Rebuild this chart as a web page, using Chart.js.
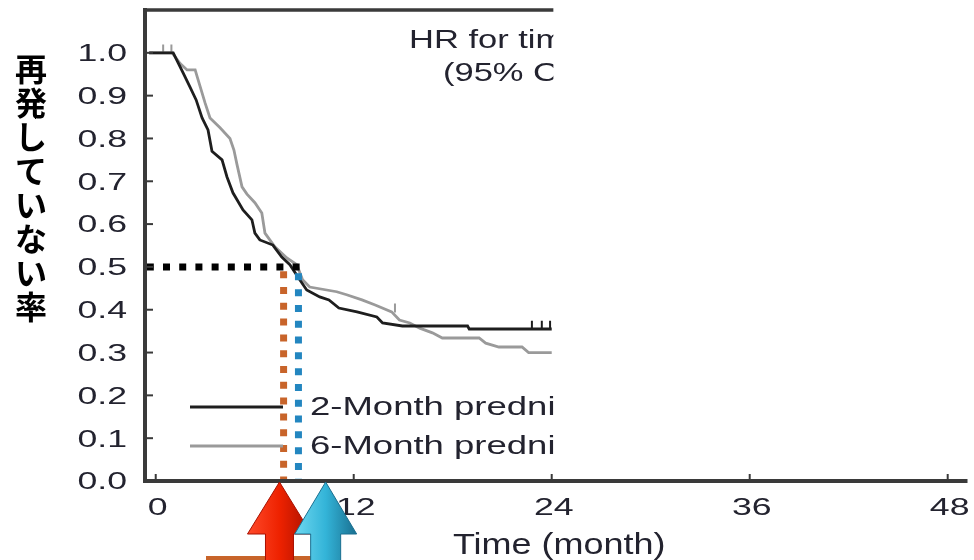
<!DOCTYPE html>
<html><head><meta charset="utf-8">
<script src="https://cdn.jsdelivr.net/npm/chart.js@4.4.1/dist/chart.umd.min.js"></script>
<style>html,body{margin:0;padding:0;background:#fff}#wrap{width:974px;height:560px}</style>
</head><body><div id="wrap"><canvas id="c" width="974" height="560"></canvas></div>
<script>
// ---- data ----
const monthsTwo = [-0.4, 1.06, 1.66, 2.08, 2.45, 2.81, 3.17, 3.41, 4.02, 4.32, 4.68, 5.29, 5.83, 6.01, 6.31, 7.1, 7.64, 8.13, 8.73, 9.15, 9.94, 10.5, 11.1, 12.2, 13.4, 13.75, 14.95, 18.9, 19.0, 24.0];
const survTwo   = [1.0, 1.0, 0.953, 0.92, 0.89, 0.848, 0.82, 0.77, 0.75, 0.71, 0.673, 0.633, 0.61, 0.579, 0.563, 0.551, 0.523, 0.505, 0.47, 0.446, 0.43, 0.423, 0.404, 0.395, 0.383, 0.369, 0.362, 0.362, 0.355, 0.355];
const monthsSix = [-0.4, 1.0, 1.48, 1.9, 2.39, 2.57, 2.99, 3.29, 3.9, 4.5, 4.74, 4.92, 5.23, 5.53, 6.01, 6.43, 6.62, 7.22, 7.95, 8.55, 8.9, 9.33, 10.97, 11.57, 12.5, 13.3, 14.3, 14.77, 15.4, 16.0, 16.77, 17.37, 19.6, 20.0, 20.8, 22.2, 22.6, 24.0];
const survSix   = [1.0, 1.0, 0.975, 0.96, 0.96, 0.937, 0.883, 0.848, 0.825, 0.80, 0.773, 0.74, 0.687, 0.67, 0.65, 0.626, 0.579, 0.547, 0.521, 0.505, 0.47, 0.453, 0.442, 0.435, 0.423, 0.411, 0.395, 0.376, 0.369, 0.357, 0.346, 0.334, 0.334, 0.322, 0.313, 0.313, 0.30, 0.30];
const censorTwoMonths = [22.8, 23.4, 23.9];
const censorTwoSurv   = [0.355, 0.355, 0.355];
const censorSixMonths = [0.45, 0.95, 14.5];
const censorSixSurv   = [1.0, 1.0, 0.395];
const medianTwo = 7.75;
const medianSix = 8.65;
const arrowMonths = [7.5, 10.3];
const xTicks = [0, 12, 24, 36, 48];
const xTickLabels = ['0', '12', '24', '36', '48'];
const yTicks = [0, 0.1, 0.2, 0.3, 0.4, 0.5, 0.6, 0.7, 0.8, 0.9, 1.0];
const yTickLabels = ['0.0', '0.1', '0.2', '0.3', '0.4', '0.5', '0.6', '0.7', '0.8', '0.9', '1.0'];
const seriesNames = ['2-Month prednisolone', '6-Month prednisolone'];
const yTitle = '再発していない率';
const xTitle = 'Time (month)';
const hrLines = ['HR for time to relapse', '(95% CI'];

const pts = (xs, ys) => xs.map((x, i) => ({x, y: ys[i]}));
const TXT = '#23232f';

function sText(ctx, str, x, y, size, sx, align, color, weight) {
  ctx.save();
  ctx.font = (weight || 'normal') + ' ' + size + 'px "Liberation Sans", Arial, sans-serif';
  ctx.fillStyle = color || TXT;
  ctx.textBaseline = 'middle';
  ctx.textAlign = align;
  ctx.translate(x, y);
  ctx.scale(sx, 1);
  ctx.fillText(str, 0, 0);
  ctx.restore();
}

function arrow(ctx, tipX, tipY, baseY, headHalf, shaftHalf, bottom, light, mid, dark) {
  const g = ctx.createLinearGradient(tipX - headHalf, 0, tipX + headHalf, 0);
  g.addColorStop(0, light); g.addColorStop(0.5, mid); g.addColorStop(1, dark);
  ctx.save();
  ctx.beginPath();
  ctx.moveTo(tipX, tipY);
  ctx.lineTo(tipX + headHalf, baseY);
  ctx.lineTo(tipX + shaftHalf, baseY);
  ctx.lineTo(tipX + shaftHalf, bottom);
  ctx.lineTo(tipX - shaftHalf, bottom);
  ctx.lineTo(tipX - shaftHalf, baseY);
  ctx.lineTo(tipX - headHalf, baseY);
  ctx.closePath();
  ctx.fillStyle = g; ctx.fill();
  ctx.strokeStyle = dark; ctx.lineWidth = 1; ctx.stroke();
  ctx.restore();
}

const decor = {
  id: 'decor',
  afterDatasetsDraw(chart) {
    const ctx = chart.ctx, xs = chart.scales.x, ys = chart.scales.y, ca = chart.chartArea;
    const axisCol = '#3a3a3a';
    const clipX = xs.getPixelForValue(24.1);
    ctx.save();
    // axes
    ctx.strokeStyle = axisCol; ctx.lineCap = 'butt';
    ctx.lineWidth = 4;
    ctx.beginPath(); ctx.moveTo(ca.left, ca.top - 2); ctx.lineTo(ca.left, ca.bottom + 2); ctx.stroke();
    ctx.beginPath(); ctx.moveTo(ca.left - 2, ca.bottom); ctx.lineTo(ca.right, ca.bottom); ctx.stroke();
    ctx.lineWidth = 3.5;
    ctx.beginPath(); ctx.moveTo(ca.left - 2, ca.top); ctx.lineTo(clipX, ca.top); ctx.stroke();
    // ticks
    ctx.lineWidth = 2;
    yTicks.forEach(v => { const y = ys.getPixelForValue(v); ctx.beginPath(); ctx.moveTo(ca.left, y); ctx.lineTo(ca.left + 8, y); ctx.stroke(); });
    xTicks.forEach(v => { const x = xs.getPixelForValue(v); ctx.beginPath(); ctx.moveTo(x, ca.bottom); ctx.lineTo(x, ca.bottom - 7); ctx.stroke(); });
    ctx.restore();
    // tick labels
    yTicks.forEach((v, i) => sText(ctx, yTickLabels[i], ca.left - 18, ys.getPixelForValue(v) + 2, 23, 1.55, 'right'));
    xTicks.forEach((v, i) => sText(ctx, xTickLabels[i], xs.getPixelForValue(v) + 2, ca.bottom + 28, 23, 1.55, 'center'));
    // x title
    sText(ctx, xTitle, (ca.left + ca.right) / 2 + 3, ca.bottom + 65, 30, 1.2, 'center');
    // y title (vertical, upright characters)
    ctx.save();
    ctx.font = 'bold 32px "Noto Sans CJK JP", sans-serif';
    ctx.fillStyle = '#000'; ctx.textAlign = 'center'; ctx.textBaseline = 'middle';
    [...yTitle].forEach((ch, i) => ctx.fillText(ch, 31, 69 + i * 34));
    ctx.restore();
    // clipped in-plot texts and legend
    ctx.save();
    ctx.beginPath(); ctx.rect(0, 0, clipX, ca.bottom - 3); ctx.clip();
    sText(ctx, hrLines[0], 409, 41, 25, 1.38, 'left');
    sText(ctx, hrLines[1], 443, 74, 25, 1.38, 'left');
    sText(ctx, seriesNames[0], 310, 408, 25, 1.46, 'left');
    sText(ctx, seriesNames[1], 310, 447, 25, 1.46, 'left');
    ctx.restore();
    // legend lines
    ctx.save(); ctx.lineWidth = 3;
    ctx.strokeStyle = '#1e1e1e'; ctx.beginPath(); ctx.moveTo(190, 407); ctx.lineTo(283, 407); ctx.stroke();
    ctx.strokeStyle = '#9a9a9a'; ctx.beginPath(); ctx.moveTo(190, 446); ctx.lineTo(283, 446); ctx.stroke();
    ctx.restore();
  },
  afterDraw(chart) {
    const ctx = chart.ctx, xs = chart.scales.x, ca = chart.chartArea;
    ctx.save();
    ctx.fillStyle = '#c8642a';
    ctx.fillRect(206, 556, 130, 4);
    ctx.restore();
    const tipY = ca.bottom + 1;
    arrow(ctx, xs.getPixelForValue(arrowMonths[0]), tipY, tipY + 52, 32, 14, 562, '#ff4a2a', '#ee2200', '#a81000');
    arrow(ctx, xs.getPixelForValue(arrowMonths[1]), tipY, tipY + 52, 31, 15, 562, '#6fd8f0', '#33b4d8', '#1a6f90');
  }
};

new Chart(document.getElementById('c'), {
  type: 'line',
  data: {
    datasets: [
      { data: pts(monthsSix, survSix), borderColor: '#9a9a9a', borderWidth: 2.8, pointRadius: 0, tension: 0, order: 3 },
      { data: pts(monthsTwo, survTwo), borderColor: '#1e1e1e', borderWidth: 2.8, pointRadius: 0, tension: 0, order: 2 },
      { data: pts(censorSixMonths, censorSixSurv.map(v => v + 0.009)), showLine: false, pointStyle: 'line', rotation: 90, pointRadius: 4.5, borderColor: '#9a9a9a', borderWidth: 2, order: 3 },
      { data: pts(censorTwoMonths, censorTwoSurv.map(v => v + 0.009)), showLine: false, pointStyle: 'line', rotation: 90, pointRadius: 4.5, borderColor: '#1e1e1e', borderWidth: 2, order: 2 },
      { data: [{x: -0.54, y: 0.5}, {x: medianSix + 0.08, y: 0.5}], borderColor: '#000', borderWidth: 7, borderDash: [7, 9.2], borderCapStyle: 'butt', pointRadius: 0, order: 1 },
      { data: [{x: medianTwo, y: 0.49}, {x: medianTwo, y: 0}], borderColor: '#c8642a', borderWidth: 7, borderDash: [7, 8.8], borderCapStyle: 'butt', pointRadius: 0, order: 1 },
      { data: [{x: medianSix, y: 0.485}, {x: medianSix, y: 0}], borderColor: '#2386c0', borderWidth: 7, borderDash: [7, 8.8], borderCapStyle: 'butt', pointRadius: 0, order: 1 }
    ]
  },
  options: {
    responsive: false, animation: false, devicePixelRatio: 1,
    layout: { padding: { left: 145, right: 4, top: 10, bottom: 79 } },
    plugins: { legend: { display: false }, tooltip: { enabled: false } },
    scales: {
      x: { type: 'linear', min: -0.65, max: 49.2, display: false },
      y: { type: 'linear', min: 0, max: 1.1, display: false }
    }
  },
  plugins: [decor]
});
</script></body></html>
